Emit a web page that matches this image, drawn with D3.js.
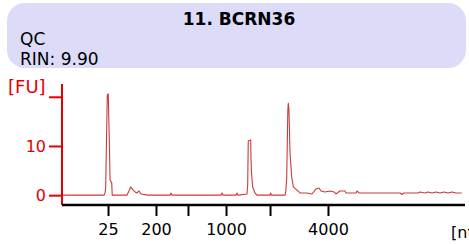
<!DOCTYPE html>
<html><head><meta charset="utf-8">
<script src="https://cdn.jsdelivr.net/npm/d3@7"></script>
<style>html,body{margin:0;padding:0;background:#fff;}svg{display:block;}</style>
</head><body>
<svg id="c" width="469" height="244"></svg>
<script>
// ---- data ----
const sampleTitle = "11. BCRN36";
const infoLines = ["QC", "RIN: 9.90"];
// migration time (s) and fluorescence (FU)
const times = [19.00,24.21,24.335,24.42,24.52,24.62,24.74,24.81,24.87,24.96,25.17,25.23,
  27.06,27.25,27.52,27.81,28.06,28.31,28.55,28.80,29.67,32.40,32.52,32.65,
  38.73,38.85,38.98,40.59,40.71,40.84,41.95,42.04,42.11,42.41,42.45,42.51,42.66,42.94,43.19,
  44.81,44.89,44.97,46.67,46.76,46.88,47.02,47.08,47.16,47.29,47.50,47.70,48.12,48.53,49.36,
  50.02,50.51,50.89,51.13,51.63,52.25,52.75,52.99,53.49,54.11,54.24,55.48,55.60,55.85,
  60.94,61.18,61.43,63.17,63.42,64.04,64.41,64.91,65.40,65.90,66.40,66.89,67.39,67.89,68.59];
const fu = [0,0,0.45,1.46,11.2,20.4,20.6,15.3,11.2,3.1,2.5,0,
  0,0.65,1.67,1.06,0.65,0.45,0.85,0.24,0,0,0.45,0,
  0,0.45,0,0,0.45,0,0.24,2.07,11.0,11.2,7.2,4.5,1.67,0.45,0,
  0,0.45,0,0,0.65,3.5,17.3,18.7,17.3,8.6,3.7,1.67,1.06,0.45,0.45,
  0.24,1.26,1.46,0.85,0.65,0.85,0.65,0.24,0.85,0.85,0.45,0.45,0.85,0.45,
  0.45,0.14,0.45,0.45,0.65,0.45,0.65,0.45,0.65,0.45,0.65,0.45,0.65,0.45,0.45];
// ladder (x-axis ticks)
const ladderTimes = [24.71,30.66,34.63,39.35,44.81,52.00];
const ladderLabels = ["25","200","","1000","","4000"];
const fuTicks = [0,10,20];
const fuTickLabels = ["0","10",""];
const xUnit = "[nt]";
const yUnit = "[FU]";

// ---- drawing ----
const svg = d3.select("#c");
const FONT = "DejaVu Sans, Verdana, sans-serif";

// header
svg.append("rect").attr("x",7).attr("y",3).attr("width",459).attr("height",65)
  .attr("rx",18).attr("ry",18).attr("fill","#dcdcf8");
svg.append("text").attr("x",239).attr("y",25).attr("text-anchor","middle")
  .attr("font-family",FONT).attr("font-weight","bold").attr("font-size",17)
  .attr("fill","#000").text(sampleTitle);
svg.selectAll("text.info").data(infoLines).enter().append("text").attr("class","info")
  .attr("x",20).attr("y",(d,i)=>45+i*20).attr("font-family",FONT).attr("font-size",17)
  .attr("fill","#000").text(d=>d);

const x = d3.scaleLinear().domain([19,69]).range([62,465]);
const y = d3.scaleLinear().domain([-2,22.6]).range([205,84]);

// signal
const line = d3.line().x((d,i)=>x(times[i])).y(d=>y(d));
svg.append("path").datum(fu).attr("d",line).attr("fill","none")
  .attr("stroke","#cc3a3a").attr("stroke-width",1.1).attr("stroke-linejoin","round");

// y axis
const red = "#e60000";
const yAxis = d3.axisLeft(y).tickValues(fuTicks).tickSize(13).tickPadding(3)
  .tickFormat((d,i)=>fuTickLabels[i]);
const gy = svg.append("g").attr("transform","translate(62,0)").call(yAxis);
gy.select(".domain").remove();
gy.append("line").attr("x1",0).attr("x2",0).attr("y1",84).attr("y2",205)
  .attr("stroke",red).attr("stroke-width",2);
gy.selectAll(".tick line").attr("stroke",red).attr("stroke-width",2);
gy.selectAll(".tick text").attr("fill",red).attr("font-family",FONT).attr("font-size",16);
svg.append("text").attr("x",8).attr("y",93).attr("font-family",FONT).attr("font-size",18)
  .attr("fill",red).text(yUnit);

// x axis
const xAxis = d3.axisBottom(x).tickValues(ladderTimes).tickSize(11).tickPadding(8)
  .tickFormat((d,i)=>ladderLabels[i]);
const gx = svg.append("g").attr("transform","translate(0,205)").call(xAxis);
gx.select(".domain").remove();
gx.append("line").attr("x1",62).attr("x2",465).attr("y1",0).attr("y2",0)
  .attr("stroke","#000").attr("stroke-width",2.5);
gx.selectAll(".tick line").attr("stroke","#000").attr("stroke-width",2);
gx.selectAll(".tick text").attr("fill","#000").attr("font-family",FONT).attr("font-size",16);
svg.append("text").attr("x",451).attr("y",238).attr("font-family",FONT).attr("font-size",16)
  .attr("fill","#000").text(xUnit);
</script>
</body></html>
